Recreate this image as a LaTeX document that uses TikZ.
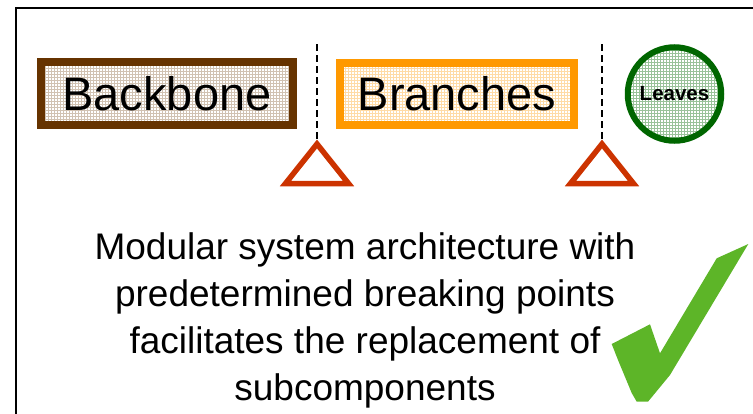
\documentclass[tikz,border=0pt]{standalone}
\usepackage{fontspec}
\setmainfont{Liberation Sans}
\usetikzlibrary{patterns}
\definecolor{bark}{RGB}{102,51,0}
\definecolor{amber}{RGB}{255,153,0}
\definecolor{rust}{RGB}{204,51,0}
\definecolor{forest}{RGB}{0,102,0}
\definecolor{lime}{RGB}{93,181,40}

\begin{document}
\begin{tikzpicture}[x=1pt,y=-1pt,
trunk/.style={draw=bark,line width=8pt,preaction={pattern=grid,pattern color=bark!30},minimum width=252pt,minimum height=63pt,inner sep=0pt,font=\fontsize{47}{50}\selectfont},
limb/.style={draw=amber,line width=8pt,preaction={pattern=grid,pattern color=amber!35},minimum width=234pt,minimum height=62pt,inner sep=0pt,font=\fontsize{47}{50}\selectfont},
leaf/.style={circle,draw=forest,line width=6pt,preaction={pattern=grid,pattern color=forest!40},minimum size=93.5pt,inner sep=0pt,font=\fontsize{20.5}{24}\selectfont\bfseries},
cut/.style={line width=2pt,dash pattern=on 7pt off 4pt},
wedge/.style={draw=rust,line width=5.5pt,line join=miter}
]
\useasboundingbox (0,0) rectangle (753,413);
% frame
\draw[line width=2pt] (16,430) -- (16,8) -- (770,8);

\node[trunk] (backbone) at (167,93.5) {Backbone};
\node[limb] (branches) at (457,93.5) {Branches};
\node[leaf] (leaves) at (674.5,94) {Leaves};

% breaking points
\coordinate (top1) at (317,44);
\coordinate (apex1) at (317,144);
\coordinate (top2) at (602,44);
\coordinate (apex2) at (602,144);
\draw[cut] (top1) -- (apex1);
\draw[cut] (top2) -- (apex2);
\draw[wedge] (apex1) -- ++(-31.5,39.5) -- ++(63,0) -- cycle;
\draw[wedge] (apex2) -- ++(-31.5,39.5) -- ++(63,0) -- cycle;

\node[anchor=north,inner sep=0pt,align=center,font=\fontsize{37}{47}\selectfont] (note) at (365,232)
  {Modular system architecture with\\predetermined breaking points\\facilitates the replacement of\\subcomponents};

% check mark
\fill[lime] (611.7,344) -- (650,324.3) -- (660,353.3) -- (716.7,258.3) -- (748.3,244)
  -- (670,375) -- (648,401.7) -- (636.7,401.7) -- (631.7,393) -- (618,360) -- cycle;
\end{tikzpicture}
\end{document}
